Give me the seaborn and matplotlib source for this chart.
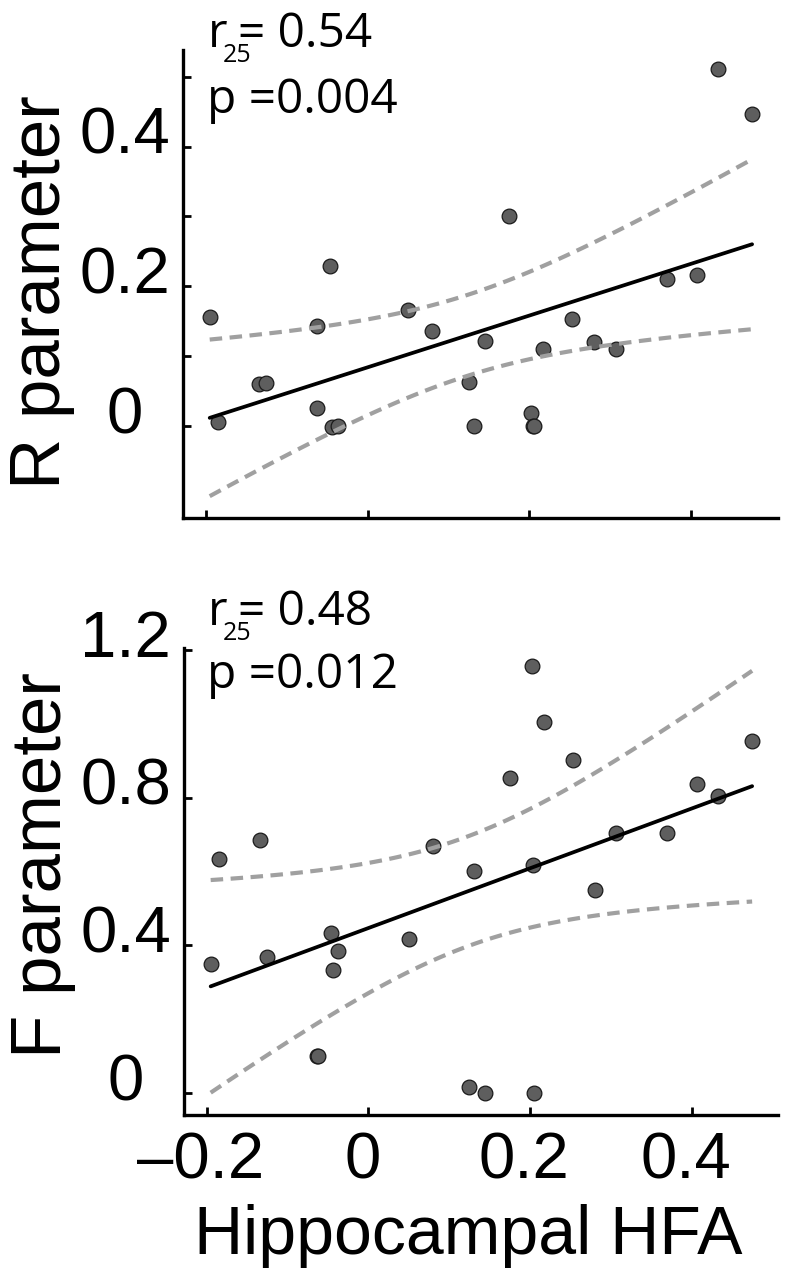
import numpy as np
import matplotlib
matplotlib.use("Agg")
import matplotlib.pyplot as plt
import seaborn as sns
from matplotlib.transforms import ScaledTranslation

# ---------------- data ----------------
hfa_top = [-0.195, -0.185, -0.134, -0.125, -0.063, -0.062, -0.046, -0.044, -0.037,
           0.050, 0.080, 0.125, 0.131, 0.145, 0.175, 0.202, 0.204, 0.205, 0.217,
           0.253, 0.280, 0.307, 0.370, 0.407, 0.433, 0.475]
r_param = [0.156, 0.006, 0.060, 0.062, 0.143, 0.026, 0.229, -0.001, 0.001,
           0.167, 0.136, 0.063, 0.000, 0.122, 0.300, 0.019, 0.000, 0.000, 0.110,
           0.153, 0.120, 0.110, 0.210, 0.217, 0.511, 0.447]

hfa_bot = [-0.195, -0.185, -0.134, -0.125, -0.063, -0.062, -0.046, -0.044, -0.037,
           0.050, 0.080, 0.125, 0.131, 0.145, 0.175, 0.202, 0.204, 0.205, 0.217,
           0.253, 0.280, 0.307, 0.370, 0.407, 0.433, 0.475]
f_param = [0.351, 0.635, 0.685, 0.368, 0.101, 0.101, 0.434, 0.333, 0.385,
           0.418, 0.668, 0.016, 0.602, 0.000, 0.853, 1.155, 0.619, 0.000, 1.004,
           0.903, 0.551, 0.703, 0.703, 0.836, 0.804, 0.953]

x_ticks = [-0.2, 0.0, 0.2, 0.4]
x_tick_labels = ["\u20130.2", "0", "0.2", "0.4"]
r_ticks = [0.0, 0.1, 0.2, 0.3, 0.4, 0.5]
r_tick_labels = ["0", "", "0.2", "", "0.4", ""]
f_ticks = [0.0, 0.4, 0.8, 1.2]
f_tick_labels = ["0", "0.4", "0.8", "1.2"]

r_label = "R parameter"
f_label = "F parameter"
x_label = "Hippocampal HFA"
df_text = "25"
stats_top = ("0.54", "0.004")
stats_bot = ("0.48", "0.012")
BAND_T = 2.6  # multiplier of the confidence band, matched to the picture

# ---------------- helpers ----------------
W, H = 786, 1280
sns.set_style("ticks")
plt.rcParams["font.family"] = ["Liberation Sans", "DejaVu Sans"]
plt.rcParams["text.color"] = "black"
plt.rcParams["axes.labelcolor"] = "black"
plt.rcParams["xtick.color"] = "black"
plt.rcParams["ytick.color"] = "black"

fig = plt.figure(figsize=(W / 100, H / 100), dpi=100)


def px_axes(left, top, right, bottom):
    return fig.add_axes([left / W, 1 - bottom / H, (right - left) / W, (bottom - top) / H])


def fit_ci(x, y):
    x = np.asarray(x, float)
    y = np.asarray(y, float)
    n = len(x)
    b, a = np.polyfit(x, y, 1)
    xs = np.linspace(x.min(), x.max(), 120)
    yhat = a + b * xs
    resid = y - (a + b * x)
    s = np.sqrt((resid ** 2).sum() / (n - 2))
    se = s * np.sqrt(1.0 / n + (xs - x.mean()) ** 2 / ((x - x.mean()) ** 2).sum())
    return xs, yhat, yhat - BAND_T * se, yhat + BAND_T * se


def draw_panel(ax, x, y):
    sns.scatterplot(x=x, y=y, ax=ax, s=112, color="#5e5e5e", edgecolor="#1a1a1a",
                    linewidth=0.9, zorder=2, legend=False)
    xs, yhat, lo, hi = fit_ci(x, y)
    for band in (lo, hi):
        sns.lineplot(x=xs, y=band, ax=ax, color="#a0a0a0", linewidth=3.0,
                     linestyle=(0, (3.0, 1.8)), zorder=3, sort=False, estimator=None)
    sns.lineplot(x=xs, y=yhat, ax=ax, color="black", linewidth=2.7, zorder=4,
                 sort=False, estimator=None)


def style_axes(ax, yticks, ylabels, ylim, show_xlabels):
    sns.despine(ax=ax)
    for sp in ("left", "bottom"):
        ax.spines[sp].set_linewidth(2.4)
        ax.spines[sp].set_color("black")
    ax.set_xlim(-0.228, 0.507)
    ax.set_ylim(*ylim)
    ax.set_xticks(x_ticks)
    ax.set_yticks(yticks)
    ax.set_yticklabels(ylabels, fontsize=47, ha="center", va="center")
    ax.tick_params(axis="y", direction="in", length=6, width=2, pad=42, colors="black")
    up = ScaledTranslation(0, 0.10, fig.dpi_scale_trans)
    for lab in ax.get_yticklabels():
        lab.set_transform(lab.get_transform() + up)
    if show_xlabels:
        ax.set_xticklabels(x_tick_labels, fontsize=47)
        ax.tick_params(axis="x", direction="in", length=6, width=2, pad=12, colors="black")
        left = ScaledTranslation(-0.06, 0, fig.dpi_scale_trans)
        for lab in ax.get_xticklabels():
            lab.set_transform(lab.get_transform() + left)
    else:
        ax.tick_params(axis="x", direction="in", length=6, width=2, labelbottom=False)
    ax.grid(False)


def stats_text(x_px, y1_px, y2_px, r_txt, p_txt):
    ann = ["Open Sans", "DejaVu Sans"]
    fig.text(x_px / W, 1 - y1_px / H, "r", fontsize=34.5, family=ann, va="baseline")
    fig.text((x_px + 15) / W, 1 - (y1_px + 15) / H, df_text, fontsize=18, family=ann,
             va="baseline")
    fig.text((x_px + 30) / W, 1 - y1_px / H, "= " + r_txt, fontsize=34.5, family=ann,
             va="baseline")
    fig.text((x_px - 1) / W, 1 - y2_px / H, "p =" + p_txt, fontsize=34.5, family=ann,
             va="baseline")


# ---------------- top panel ----------------
ax1 = px_axes(183, 50, 778, 518)
draw_panel(ax1, hfa_top, r_param)
style_axes(ax1, r_ticks, r_tick_labels, (-0.131, 0.538), False)
ax1.set_xlabel("")
ax1.set_ylabel(r_label, fontsize=51)
ax1.yaxis.set_label_coords(-0.182, 0.482)

# ---------------- bottom panel ----------------
ax2 = px_axes(184, 648, 778, 1115)
draw_panel(ax2, hfa_bot, f_param)
style_axes(ax2, f_ticks, f_tick_labels, (-0.059, 1.205), True)
ax2.set_ylabel(f_label, fontsize=51)
ax2.yaxis.set_label_coords(-0.182, 0.535)
ax2.set_xlabel(x_label, fontsize=49)
ax2.xaxis.set_label_coords(0.478, -0.19)

stats_text(208, 47, 113, *stats_top)
stats_text(208, 625, 688, *stats_bot)

fig.savefig("out.png", dpi=100, facecolor="white")
